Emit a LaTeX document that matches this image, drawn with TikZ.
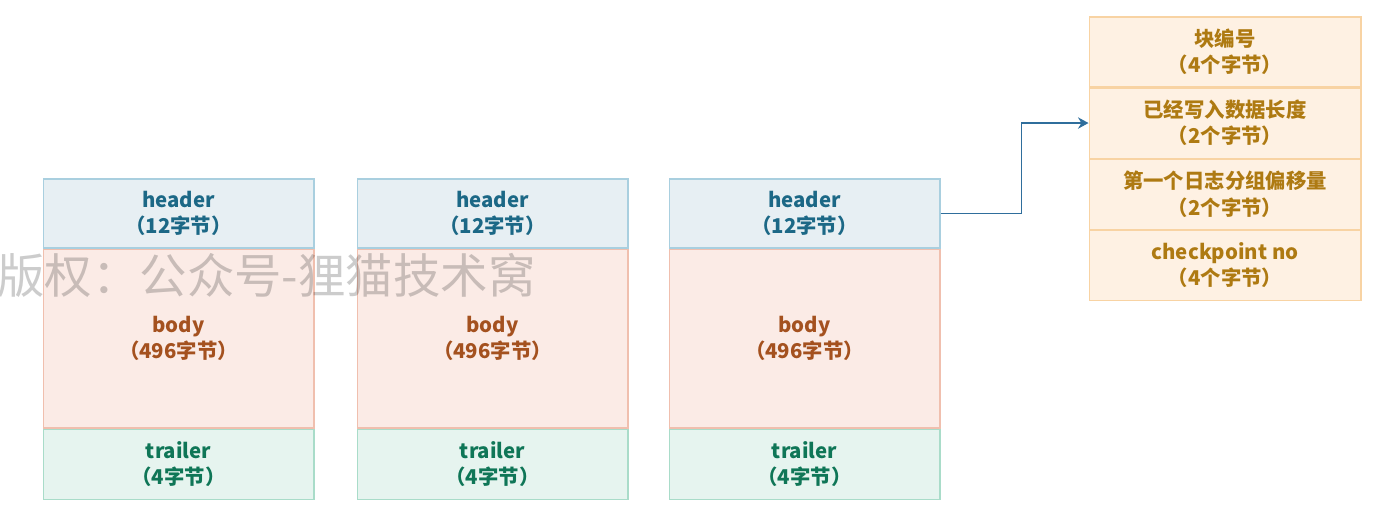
\documentclass[tikz,border=0pt]{standalone}
\usepackage{fontspec}
\setmainfont{Noto Sans CJK SC}
\usetikzlibrary{positioning,arrows.meta}

\definecolor{hdrfill}{HTML}{E7EFF3}
\definecolor{hdrline}{HTML}{A9CFDF}
\definecolor{hdrtext}{HTML}{1C6886}
\definecolor{bodyfill}{HTML}{FBEBE6}
\definecolor{bodyline}{HTML}{F0BFAE}
\definecolor{bodytext}{HTML}{A4511F}
\definecolor{trlfill}{HTML}{E6F4EF}
\definecolor{trlline}{HTML}{A9DCC9}
\definecolor{trltext}{HTML}{0F7657}
\definecolor{rowfill}{HTML}{FEF1E3}
\definecolor{rowline}{HTML}{F8D3A3}
\definecolor{rowtext}{HTML}{AE7A12}
\definecolor{linkblue}{HTML}{2F6E9C}

\begin{document}
\begin{tikzpicture}[x=0.02cm,y=-0.02cm,
  cell/.style={draw,line width=0.6pt,minimum width=5.42cm,inner sep=0pt,align=center,
               font=\fontsize{11.6}{15}\selectfont\bfseries},
  hdr/.style={cell,fill=hdrfill,draw=hdrline,text=hdrtext,minimum height=1.38cm},
  body/.style={cell,fill=bodyfill,draw=bodyline,text=bodytext,minimum height=3.58cm},
  trl/.style={cell,fill=trlfill,draw=trlline,text=trltext,minimum height=1.4cm},
  row/.style={cell,fill=rowfill,draw=rowline,text=rowtext,minimum width=5.44cm,minimum height=1.4cm},
  wmark/.style={anchor=west,inner sep=0pt,text=black,text opacity=0.2,font=\fontsize{27}{30}\selectfont},
  link/.style={draw=linkblue,line width=0.7pt,-{Stealth[length=6pt,width=6.5pt]}}]
\useasboundingbox (0,0) rectangle (1396,517);

% three blocks
\foreach \i/\x in {1/178.5,2/492.5,3/804.5}{
  \node[hdr] (hdr\i) at (\x,213.5) {header\\（12字节）};
  \node[body,below=0pt of hdr\i] (body\i) {body\\（496字节）};
  \node[trl,below=0pt of body\i] (trl\i) {trailer\\（4字节）};
}

% header detail
\node[row] (row1) at (1225,52) {块编号\\（4个字节）};
\node[row,below=0pt of row1] (row2) {已经写入数据长度\\（2个字节）};
\node[row,below=0pt of row2] (row3) {第一个日志分组偏移量\\（2个字节）};
\node[row,below=0pt of row3] (row4) {checkpoint no\\（4个字节）};

\draw[link] (hdr3.east) -- ++(81,0) |- (row2.west);

\node[wmark] (wm) at (-3,275) {版权：公众号-狸猫技术窝};
\end{tikzpicture}
\end{document}
